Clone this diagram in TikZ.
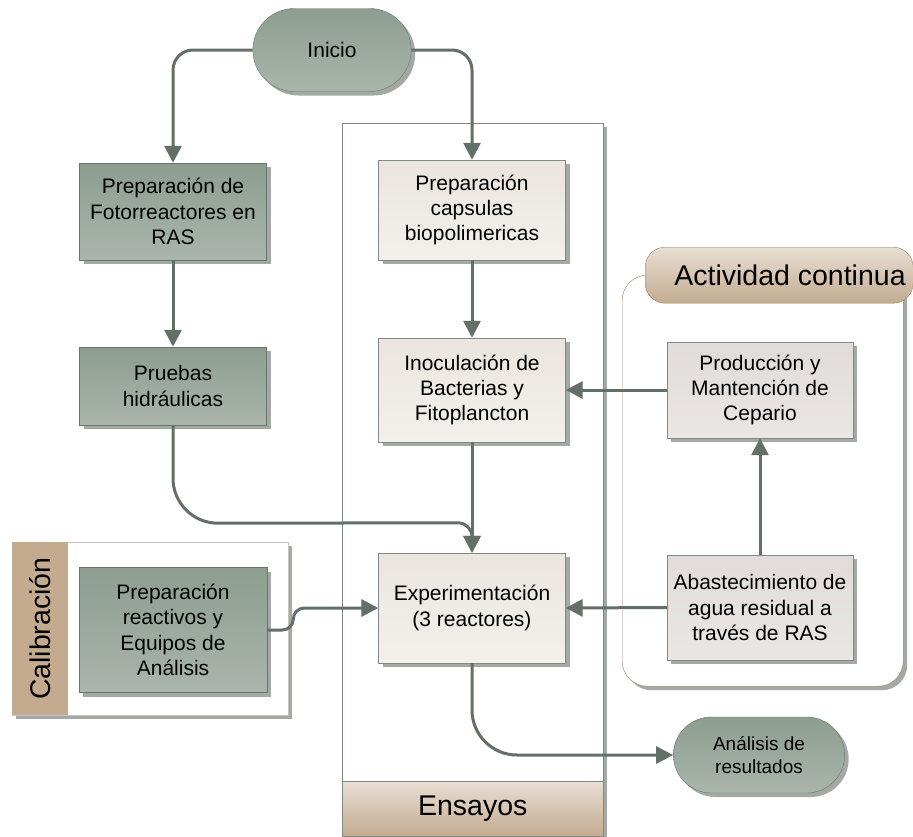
\documentclass[tikz,border=0pt]{standalone}
\usepackage{fontspec}
\setmainfont{Liberation Sans}
\usetikzlibrary{positioning,arrows.meta,shapes.misc,shadows}

\definecolor{sage}{HTML}{8D9D90}
\definecolor{sagelt}{HTML}{AAB5AC}
\definecolor{sagedk}{HTML}{66766B}
\definecolor{cream}{HTML}{EAE5DE}
\definecolor{creamlt}{HTML}{F3F0EB}
\definecolor{stone}{HTML}{E1DCD9}
\definecolor{stonelt}{HTML}{EAE6E3}
\definecolor{tan}{HTML}{C4AB90}
\definecolor{tanlt}{HTML}{E8DFD3}
\definecolor{tandk}{HTML}{9C7C5C}
\definecolor{linegray}{HTML}{808A84}
\definecolor{shade}{HTML}{A3AAA5}
\definecolor{arrowc}{HTML}{627067}

\begin{document}
\begin{tikzpicture}[x=1pt,y=-1pt,>={Triangle[length=17pt,width=17pt]},
  every node/.style={font=\fontsize{21}{25.3}\selectfont},
  shad/.style={drop shadow={shadow xshift=4pt,shadow yshift=-4pt,opacity=1,fill=shade}},
  darkbox/.style={rectangle,draw=sagedk,top color=sage,bottom color=sagelt,shad,
    minimum width=187pt,align=center,inner sep=2pt},
  lightbox/.style={darkbox,draw=linegray,top color=cream,bottom color=creamlt},
  greybox/.style={darkbox,draw=linegray,top color=stone,bottom color=stonelt,minimum width=186pt},
  pill/.style={rounded rectangle,draw=sagedk,top color=sage,bottom color=sagelt,shad,align=center},
  lane/.style={rectangle,fill=white,shad,anchor=north west},
  headfont/.style={font=\fontsize{28.5}{34}\selectfont},
  conn/.style={->,draw=arrowc,line width=3pt}]
  \useasboundingbox (0,0) rectangle (913,836);

  % lanes
  \node[lane,draw=linegray,minimum width=261pt,minimum height=713pt] (ensayos) at (342,123) {};
  \node[anchor=south west,top color=tanlt,bottom color=tan,draw=linegray,
    minimum width=261pt,minimum height=55pt] (ensayosband) at (ensayos.south west) {};
  \node[headfont] at (ensayosband) {Ensayos};

  \node[lane,draw=tanlt!70!gray,minimum width=276pt,minimum height=173pt] (calib) at (12,542) {};
  \node[anchor=north west,fill=tan,minimum width=56pt,minimum height=173pt] (calibband) at (calib.north west) {};
  \node[headfont,rotate=90] at (calibband) {Calibración};

  \node[lane,draw=tandk,rounded corners=25pt,minimum width=281pt,minimum height=411pt] (activ) at (622,275) {};
  \node[anchor=north west,draw=tandk,top color=tanlt,bottom color=tan,rounded corners=20pt,
    minimum width=268pt,minimum height=56pt] (activband) at (645,247) {};
  \node[headfont] at (790,275) {Actividad continua};

  % steps
  \node[pill,minimum width=165pt,minimum height=83pt] (inicio) at (332,50) {Inicio};
  \node[darkbox,minimum height=97pt] (fotor) at (173,211.5) {Preparación de\\Fotorreactores en\\RAS};
  \node[darkbox,minimum height=78pt] (prueb) at (173,386) {Pruebas\\hidráulicas};
  \node[darkbox,minimum width=188pt,minimum height=125pt] (reactiv) at (173,630) {Preparación\\reactivos y\\Equipos de\\Análisis};
  \node[lightbox,minimum height=100pt] (capsul) at (472,210) {Preparación\\capsulas\\biopolimericas};
  \node[lightbox,minimum height=104pt] (inoc) at (472,390) {Inoculación de\\Bacterias y\\Fitoplancton};
  \node[lightbox,minimum height=110pt] (exper) at (472,608) {Experimentación\\(3 reactores)};
  \node[greybox,minimum height=96pt] (produc) at (760,390) {Producción y\\Mantención de\\Cepario};
  \node[greybox,minimum height=105pt] (abast) at (760,607.5) {Abastecimiento de\\agua residual a\\través de RAS};
  \node[pill,font=\fontsize{19}{23}\selectfont,minimum width=178pt,minimum height=76pt] (analisis) at (759,755) {Análisis de\\resultados};

  % flow
  \draw[conn,rounded corners=20pt] (inicio.west) -| (fotor.north);
  \draw[conn,rounded corners=20pt] (inicio.east) -| (capsul.north);
  \draw[conn] (fotor) -- (prueb);
  \draw[conn] (capsul) -- (inoc);
  \draw[conn] (inoc) -- (exper);
  \draw[conn] (prueb.south) -- ++(0,53) to[out=-90,in=180] ++(45,45)
    -- ([xshift=-14pt,yshift=30pt]exper.north) to[out=0,in=90] ([yshift=16pt]exper.north) -- (exper.north);
  \draw[conn,rounded corners=11pt] (reactiv.east) -| ([xshift=-85pt]exper.west) -- (exper.west);
  \draw[conn] (produc.west) -- (inoc.east);
  \draw[conn] (abast.north) -- (produc.south);
  \draw[conn] (abast.west) -- (exper.east);
  \draw[conn,rounded corners=45pt] (exper.south) |- (analisis.west);
\end{tikzpicture}
\end{document}
